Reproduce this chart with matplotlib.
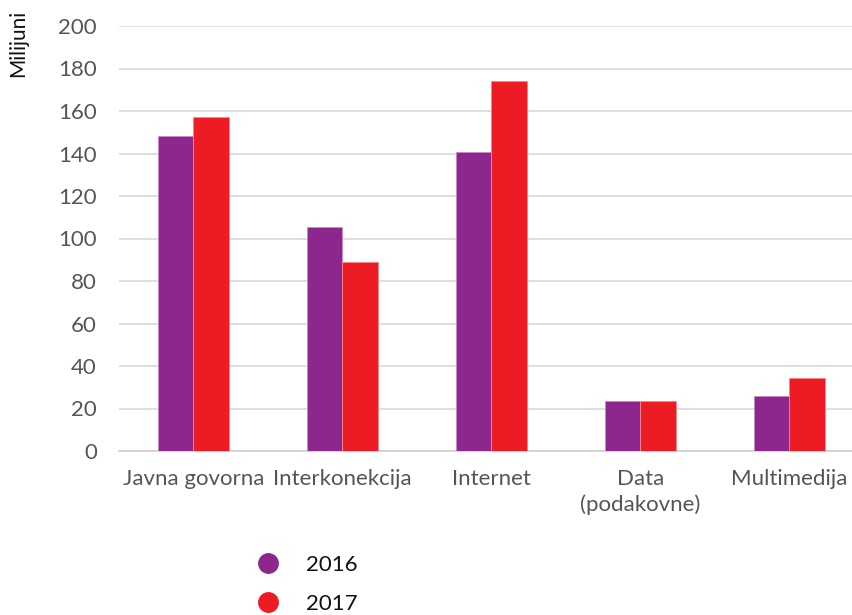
import matplotlib
matplotlib.use("Agg")
import matplotlib.pyplot as plt
import numpy as np
from matplotlib.lines import Line2D

categories = ["Javna govorna", "Interkonekcija", "Internet", "Data\n(podakovne)", "Multimedija"]
values_2016 = [148.2, 105.4, 140.7, 23.5, 25.9]
values_2017 = [157.2, 89.0, 174.1, 23.5, 34.4]
series_names = ["2016", "2017"]
yticks = [0, 20, 40, 60, 80, 100, 120, 140, 160, 180, 200]

c16 = "#8e278d"
c17 = "#ed1c24"

plt.rcParams['font.family'] = ['Lato', 'DejaVu Sans']

fig = plt.figure(figsize=(8.53, 6.15), dpi=100)
W, H = 853, 615
left, right = 119, 853
top, bottom = 26, 451
ax = fig.add_axes([left / W, 1 - bottom / H, (right - left) / W, (bottom - top) / H])

x = np.arange(len(categories))
bw = 0.24
ax.bar(x - bw / 2, values_2016, width=bw, color=c16, edgecolor="#c58bc4", linewidth=0.6, zorder=3)
ax.bar(x + bw / 2, values_2017, width=bw, color=c17, edgecolor="#f7868a", linewidth=0.6, zorder=3)

ax.set_ylim(0, 200)
ax.set_xlim(-0.5, -0.5 + (right - left) / 149.0)
ax.set_yticks(yticks)
ax.set_xticks(x)
ax.set_xticklabels(categories)
ax.yaxis.grid(True, color="#d9d9d9", linewidth=1.2, zorder=0)
ax.set_axisbelow(True)
for s in ["top", "right", "left"]:
    ax.spines[s].set_visible(False)
ax.spines["bottom"].set_color("#d0d0d0")
ax.spines["bottom"].set_linewidth(1.2)
ax.tick_params(axis="both", length=0, labelsize=16, colors="#555555")
ax.tick_params(axis="y", pad=16)
ax.tick_params(axis="x", pad=13)
for lbl in ax.get_xticklabels():
    lbl.set_linespacing(1.35)

fig.text(8 / W, 1 - 10 / H, "Milijuni", rotation=90, ha="left", va="top", fontsize=15, color="#111111")

handles = [Line2D([0], [0], marker="o", linestyle="", markersize=14, color=c16),
           Line2D([0], [0], marker="o", linestyle="", markersize=14, color=c17)]
leg = fig.legend(handles, series_names, loc="upper left", bbox_to_anchor=(239 / W, 1 - 548 / H),
                 frameon=False, fontsize=16, handletextpad=0.7, labelspacing=0.85,
                 borderaxespad=0, borderpad=0.3)
for t in leg.get_texts():
    t.set_color("#111111")

fig.savefig("out.png", dpi=100)
